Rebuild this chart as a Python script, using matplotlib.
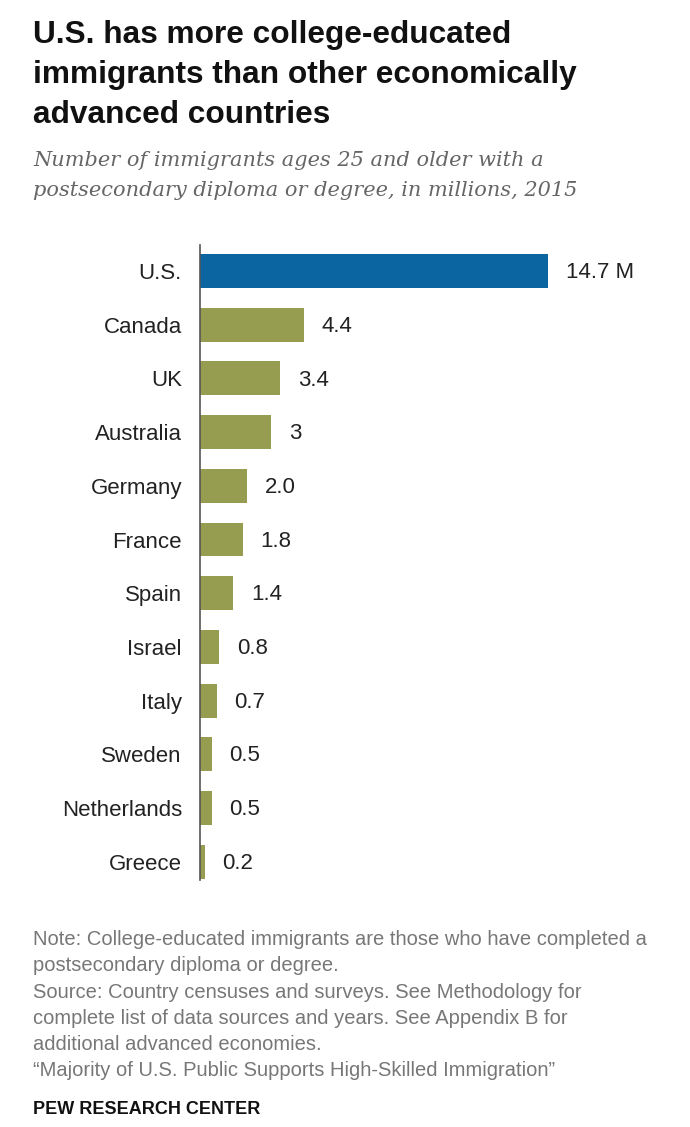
import matplotlib
matplotlib.use("Agg")
import matplotlib.pyplot as plt

countries = ["U.S.", "Canada", "UK", "Australia", "Germany", "France", "Spain",
             "Israel", "Italy", "Sweden", "Netherlands", "Greece"]
values = [14.7, 4.4, 3.4, 3.0, 2.0, 1.8, 1.4, 0.8, 0.7, 0.5, 0.5, 0.2]
value_labels = ["14.7 M", "4.4", "3.4", "3", "2.0", "1.8", "1.4", "0.8", "0.7", "0.5", "0.5", "0.2"]

SANS = "Liberation Sans"
BLUE = "#0b65a0"
GREEN = "#979d50"

fig = plt.figure(figsize=(6.9, 11.27), dpi=100)
W, H = 690, 1127

ax = fig.add_axes([200 / W, 1 - 880 / H, 490 / W, 635 / H])
colors = [BLUE] + [GREEN] * (len(values) - 1)
ypos = list(range(len(values)))
ax.barh(ypos, values, height=0.63, color=colors, left=0)
ax.set_xlim(0, 490 / 23.67)
ax.set_ylim(11.34, -0.484)
for s in ["top", "right", "bottom"]:
    ax.spines[s].set_visible(False)
ax.spines["left"].set_color("#555555")
ax.spines["left"].set_linewidth(1.2)
ax.set_xticks([])
ax.set_yticks(ypos)
ax.set_yticklabels(countries, fontsize=16, family=SANS, color="#222222")
ax.tick_params(axis="y", length=0, pad=13)
for y, v, lab in zip(ypos, values, value_labels):
    ax.text(v + 0.75, y + 0.03, lab, va="center", ha="left", fontsize=16,
            family=SANS, color="#222222")

# Title
title_lines = ["U.S. has more college-educated",
               "immigrants than other economically",
               "advanced countries"]
for i, t in enumerate(title_lines):
    fig.text(33 / W, 1 - (43 + i * 40) / H, t, fontsize=22.8, fontweight="bold",
             family=SANS, color="#111111", va="baseline")

sub_lines = ["Number of immigrants ages 25 and older with a",
             "postsecondary diploma or degree, in millions, 2015"]
for i, t in enumerate(sub_lines):
    fig.text(33 / W, 1 - (166 + i * 30) / H, t, fontsize=15, style="italic",
             family="DejaVu Serif", color="#666666", va="baseline")

notes = ["Note: College-educated immigrants are those who have completed a",
         "postsecondary diploma or degree.",
         "Source: Country censuses and surveys. See Methodology for",
         "complete list of data sources and years. See Appendix B for",
         "additional advanced economies.",
         "\u201cMajority of U.S. Public Supports High-Skilled Immigration\u201d"]
for i, t in enumerate(notes):
    fig.text(33 / W, 1 - (945 + i * 26.3) / H, t, fontsize=14.5,
             family=SANS, color="#777777", va="baseline")

fig.text(33 / W, 1 - 1114 / H, "PEW RESEARCH CENTER", fontsize=13, fontweight="bold",
         family=SANS, color="#111111", va="baseline")

fig.savefig("out.png", dpi=100, facecolor="white")
